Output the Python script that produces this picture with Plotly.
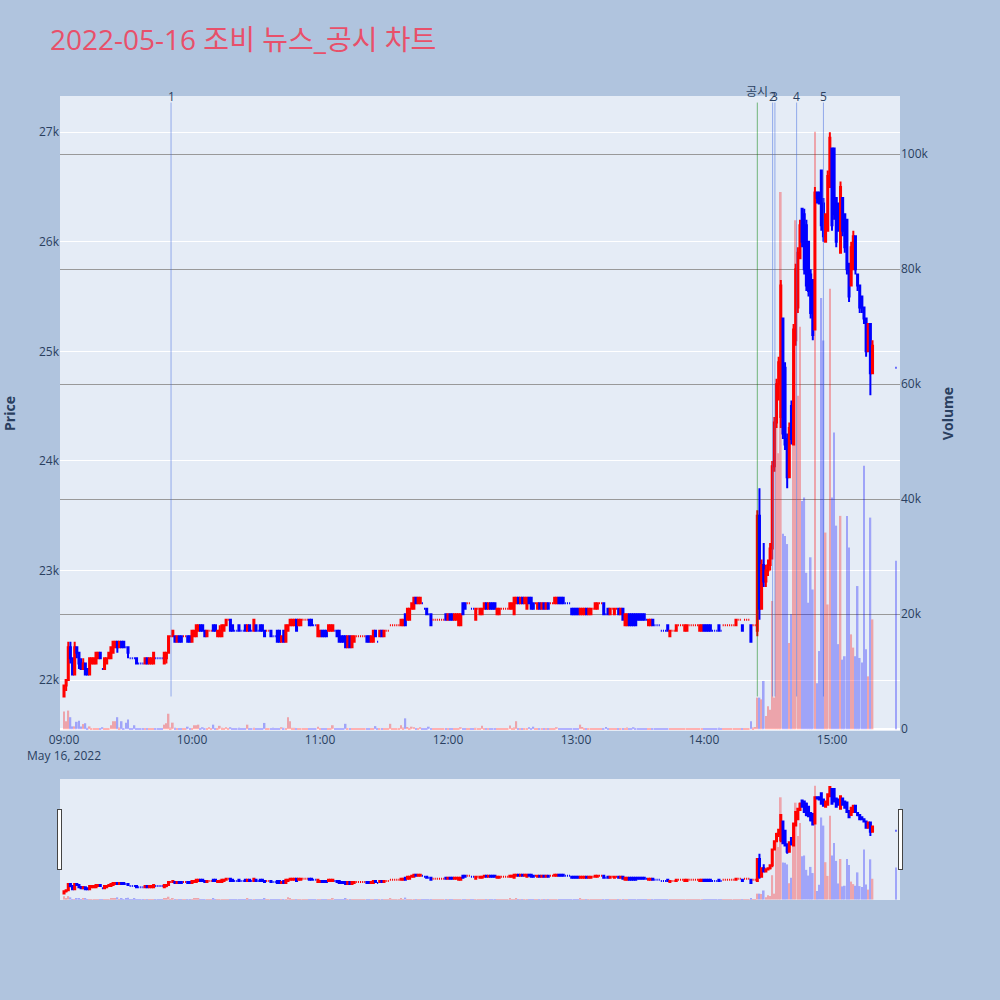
import plotly.graph_objects as go
from plotly.subplots import make_subplots

DAY = "2022-05-16"
# 1-minute bars 09:00 .. 15:19 plus the 15:30 closing auction
times = [f"{DAY} {9 + i // 60:02d}:{i % 60:02d}" for i in range(380)] + [f"{DAY} 15:30"]

opens = [
    21850, 21950, 22000, 22300, 22200, 22050, 22300, 22250, 22150, 22100,
    22150, 22100, 22050, 22150, 22150, 22150, 22200, 22250, 22100, 22100,
    22150, 22200, 22200, 22250, 22300, 22350, 22300, 22350, 22350, 22300,
    22300, 22200, 22200, 22200, 22200, 22150, 22150, 22150, 22150, 22200,
    22150, 22150, 22150, 22200, 22200, 22200, 22200, 22150, 22200, 22250,
    22400, 22400, 22400, 22350, 22400, 22400, 22400, 22400, 22400, 22400,
    22350, 22400, 22400, 22450, 22500, 22500, 22450, 22400, 22450, 22450,
    22500, 22500, 22400, 22400, 22400, 22450, 22500, 22550, 22550, 22500,
    22450, 22450, 22500, 22450, 22450, 22500, 22450, 22500, 22450, 22450,
    22500, 22450, 22500, 22500, 22450, 22450, 22450, 22450, 22400, 22400,
    22450, 22450, 22350, 22450, 22350, 22450, 22500, 22500, 22500, 22550,
    22500, 22500, 22550, 22550, 22550, 22550, 22550, 22500, 22500, 22400,
    22400, 22450, 22450, 22450, 22450, 22450, 22450, 22450, 22450, 22450,
    22400, 22400, 22400, 22300, 22400, 22300, 22350, 22400, 22400, 22400,
    22400, 22400, 22400, 22400, 22350, 22350, 22450, 22350, 22400, 22450,
    22400, 22450, 22450, 22500, 22500, 22500, 22500, 22500, 22500, 22500,
    22600, 22550, 22550, 22650, 22650, 22750, 22700, 22700, 22700, 22650,
    22650, 22600, 22600, 22550, 22550, 22550, 22550, 22550, 22550, 22600,
    22550, 22600, 22600, 22550, 22550, 22500, 22500, 22700, 22700, 22700,
    22700, 22650, 22650, 22550, 22650, 22600, 22600, 22650, 22700, 22650,
    22700, 22700, 22700, 22600, 22600, 22650, 22650, 22650, 22650, 22650,
    22650, 22600, 22700, 22750, 22700, 22750, 22700, 22650, 22750, 22750,
    22700, 22700, 22650, 22700, 22650, 22700, 22650, 22700, 22700, 22700,
    22700, 22700, 22750, 22750, 22750, 22700, 22700, 22700, 22650, 22650,
    22650, 22650, 22600, 22600, 22600, 22650, 22600, 22600, 22650, 22650,
    22650, 22700, 22700, 22700, 22600, 22650, 22600, 22650, 22600, 22650,
    22650, 22600, 22650, 22500, 22500, 22600, 22600, 22600, 22600, 22600,
    22600, 22600, 22600, 22550, 22500, 22500, 22550, 22500, 22500, 22500,
    22450, 22450, 22450, 22500, 22400, 22450, 22450, 22450, 22500, 22500,
    22500, 22450, 22450, 22500, 22500, 22500, 22500, 22500, 22450, 22450,
    22500, 22500, 22500, 22500, 22450, 22450, 22450, 22500, 22450, 22500,
    22500, 22500, 22500, 22500, 22500, 22500, 22550, 22550, 22500, 22550,
    22550, 22550, 22500, 22500, 22500, 22450, 23500, 22650, 23050, 22900,
    23000, 23050, 23200, 23950, 24350, 24700, 24400, 25300, 24850, 24200,
    23850, 24500, 24150, 25100, 25400, 25850, 26300, 26250, 26150, 26000,
    25700, 25650, 25200, 26450, 26450, 26650, 26350, 26000, 26100, 26500,
    26850, 26850, 26400, 26350, 25900, 26400, 26250, 26200, 25800, 25600,
    25750, 26050, 25700, 25600, 25500, 25400, 25300, 25000, 25250, 24800,
    24850,
]

highs = [
    21950, 22000, 22350, 22350, 22200, 22350, 22300, 22250, 22200, 22200,
    22150, 22100, 22200, 22200, 22200, 22250, 22250, 22250, 22100, 22200,
    22200, 22250, 22300, 22350, 22350, 22350, 22350, 22350, 22350, 22300,
    22300, 22200, 22200, 22200, 22200, 22150, 22150, 22150, 22200, 22200,
    22200, 22200, 22250, 22200, 22200, 22200, 22200, 22250, 22250, 22400,
    22400, 22450, 22400, 22400, 22400, 22400, 22400, 22400, 22400, 22400,
    22450, 22450, 22500, 22500, 22500, 22500, 22450, 22450, 22450, 22450,
    22500, 22500, 22450, 22500, 22500, 22500, 22550, 22550, 22550, 22500,
    22450, 22450, 22500, 22450, 22450, 22500, 22500, 22500, 22450, 22550,
    22500, 22450, 22500, 22500, 22450, 22450, 22450, 22450, 22400, 22400,
    22450, 22450, 22400, 22450, 22500, 22500, 22550, 22550, 22550, 22550,
    22550, 22550, 22550, 22550, 22550, 22550, 22550, 22500, 22500, 22500,
    22450, 22450, 22450, 22450, 22500, 22500, 22500, 22450, 22450, 22450,
    22400, 22400, 22400, 22400, 22400, 22400, 22400, 22400, 22400, 22400,
    22400, 22400, 22400, 22400, 22400, 22450, 22450, 22350, 22450, 22450,
    22450, 22450, 22450, 22500, 22500, 22500, 22500, 22500, 22550, 22550,
    22600, 22650, 22650, 22700, 22750, 22750, 22750, 22750, 22700, 22650,
    22650, 22600, 22600, 22550, 22550, 22550, 22550, 22550, 22550, 22600,
    22600, 22600, 22600, 22600, 22600, 22600, 22600, 22700, 22700, 22700,
    22700, 22650, 22650, 22650, 22650, 22650, 22650, 22700, 22700, 22700,
    22700, 22700, 22700, 22650, 22650, 22650, 22650, 22650, 22650, 22700,
    22700, 22750, 22750, 22750, 22750, 22750, 22750, 22750, 22750, 22750,
    22700, 22700, 22700, 22700, 22700, 22700, 22700, 22700, 22700, 22700,
    22750, 22750, 22750, 22750, 22750, 22700, 22700, 22700, 22650, 22650,
    22650, 22650, 22650, 22650, 22650, 22650, 22650, 22650, 22650, 22700,
    22700, 22700, 22700, 22700, 22600, 22650, 22650, 22650, 22650, 22650,
    22650, 22650, 22650, 22600, 22600, 22600, 22600, 22600, 22600, 22600,
    22600, 22600, 22600, 22550, 22550, 22550, 22550, 22500, 22500, 22500,
    22450, 22450, 22450, 22500, 22450, 22450, 22450, 22500, 22500, 22500,
    22500, 22500, 22500, 22500, 22500, 22500, 22500, 22500, 22500, 22500,
    22500, 22500, 22500, 22500, 22450, 22450, 22450, 22500, 22450, 22500,
    22500, 22500, 22500, 22500, 22500, 22550, 22550, 22550, 22500, 22550,
    22550, 22550, 22500, 22500, 22500, 23550, 23750, 23100, 23250, 23050,
    23100, 23250, 24000, 24400, 24750, 24950, 25650, 25300, 24900, 24250,
    24350, 24550, 25250, 25800, 25950, 26200, 26300, 26300, 26200, 26000,
    25750, 25650, 26500, 26450, 26450, 26650, 26400, 26250, 26650, 27000,
    26850, 26850, 26400, 26350, 26550, 26400, 26250, 26200, 25800, 26000,
    26100, 26050, 25700, 25600, 25500, 25400, 25300, 25250, 25250, 25100,
    24850,
]

lows = [
    21850, 21900, 22000, 22150, 22050, 22050, 22200, 22100, 22100, 22100,
    22050, 22050, 22050, 22150, 22150, 22150, 22200, 22200, 22100, 22100,
    22150, 22200, 22200, 22250, 22300, 22250, 22300, 22300, 22300, 22300,
    22200, 22200, 22200, 22200, 22150, 22150, 22150, 22150, 22150, 22150,
    22150, 22150, 22150, 22200, 22200, 22200, 22200, 22150, 22150, 22250,
    22400, 22400, 22350, 22350, 22350, 22350, 22400, 22400, 22350, 22350,
    22350, 22400, 22400, 22450, 22450, 22450, 22400, 22400, 22450, 22450,
    22450, 22450, 22400, 22400, 22400, 22450, 22500, 22550, 22450, 22450,
    22450, 22450, 22450, 22450, 22450, 22450, 22450, 22450, 22450, 22450,
    22450, 22450, 22450, 22450, 22400, 22450, 22450, 22400, 22400, 22400,
    22350, 22350, 22350, 22350, 22350, 22450, 22500, 22500, 22500, 22450,
    22500, 22500, 22550, 22550, 22550, 22500, 22500, 22500, 22500, 22400,
    22400, 22400, 22400, 22400, 22450, 22450, 22450, 22450, 22400, 22350,
    22350, 22350, 22300, 22300, 22300, 22300, 22350, 22400, 22400, 22400,
    22400, 22400, 22350, 22350, 22350, 22350, 22400, 22350, 22400, 22400,
    22400, 22450, 22450, 22500, 22500, 22500, 22500, 22500, 22500, 22500,
    22500, 22550, 22550, 22650, 22650, 22700, 22700, 22700, 22700, 22650,
    22600, 22600, 22500, 22550, 22550, 22550, 22550, 22550, 22550, 22550,
    22550, 22550, 22550, 22550, 22550, 22500, 22500, 22600, 22650, 22700,
    22700, 22650, 22650, 22550, 22650, 22600, 22600, 22650, 22650, 22650,
    22650, 22650, 22650, 22600, 22600, 22650, 22650, 22650, 22650, 22650,
    22650, 22600, 22700, 22700, 22700, 22700, 22700, 22650, 22700, 22650,
    22650, 22700, 22650, 22650, 22650, 22650, 22650, 22650, 22700, 22700,
    22700, 22700, 22700, 22700, 22700, 22700, 22700, 22700, 22600, 22600,
    22600, 22600, 22600, 22600, 22600, 22600, 22600, 22600, 22650, 22650,
    22650, 22700, 22700, 22600, 22600, 22600, 22600, 22650, 22600, 22650,
    22600, 22600, 22550, 22500, 22500, 22500, 22500, 22500, 22500, 22550,
    22550, 22550, 22550, 22550, 22500, 22500, 22500, 22500, 22500, 22500,
    22450, 22450, 22450, 22450, 22400, 22450, 22450, 22450, 22500, 22500,
    22500, 22450, 22450, 22500, 22500, 22500, 22500, 22500, 22450, 22450,
    22450, 22450, 22450, 22450, 22450, 22450, 22450, 22450, 22450, 22500,
    22500, 22500, 22500, 22500, 22500, 22500, 22550, 22550, 22450, 22550,
    22550, 22550, 22350, 22500, 22500, 22400, 22550, 22650, 22850, 22850,
    22950, 23000, 23100, 23900, 24300, 24550, 24300, 24200, 24100, 23750,
    23850, 24150, 24150, 25050, 25350, 25850, 25950, 25700, 25550, 25500,
    25300, 25100, 25200, 26350, 26350, 26100, 26000, 26000, 26100, 26500,
    26100, 26200, 25950, 26100, 25900, 26050, 25900, 25700, 25450, 25600,
    25750, 25700, 25550, 25350, 25350, 25250, 24950, 25000, 24600, 24800,
    24850,
]

closes = [
    21950, 22000, 22300, 22200, 22050, 22300, 22250, 22150, 22100, 22150,
    22050, 22050, 22200, 22200, 22200, 22250, 22250, 22200, 22100, 22200,
    22200, 22250, 22300, 22350, 22350, 22300, 22350, 22300, 22300, 22300,
    22250, 22200, 22200, 22200, 22150, 22150, 22150, 22150, 22200, 22150,
    22200, 22200, 22250, 22200, 22200, 22200, 22200, 22250, 22250, 22400,
    22400, 22450, 22350, 22400, 22350, 22350, 22400, 22400, 22350, 22350,
    22450, 22450, 22500, 22500, 22450, 22450, 22400, 22450, 22450, 22450,
    22450, 22450, 22450, 22450, 22500, 22500, 22550, 22550, 22450, 22450,
    22450, 22450, 22450, 22450, 22450, 22450, 22500, 22450, 22450, 22550,
    22450, 22450, 22450, 22450, 22400, 22450, 22450, 22400, 22400, 22400,
    22350, 22350, 22400, 22350, 22500, 22500, 22550, 22550, 22550, 22450,
    22550, 22550, 22550, 22550, 22550, 22500, 22500, 22500, 22500, 22500,
    22450, 22400, 22400, 22400, 22500, 22500, 22500, 22450, 22400, 22350,
    22350, 22350, 22300, 22400, 22300, 22400, 22400, 22400, 22400, 22400,
    22400, 22400, 22350, 22350, 22400, 22450, 22400, 22350, 22450, 22400,
    22450, 22450, 22450, 22500, 22500, 22500, 22500, 22500, 22550, 22550,
    22500, 22650, 22650, 22700, 22750, 22700, 22750, 22750, 22700, 22650,
    22600, 22600, 22500, 22550, 22550, 22550, 22550, 22550, 22550, 22550,
    22600, 22550, 22550, 22600, 22600, 22600, 22600, 22600, 22650, 22700,
    22700, 22650, 22650, 22650, 22650, 22650, 22650, 22700, 22650, 22700,
    22650, 22650, 22650, 22650, 22650, 22650, 22650, 22650, 22650, 22700,
    22700, 22750, 22750, 22700, 22750, 22700, 22750, 22750, 22700, 22650,
    22650, 22700, 22700, 22650, 22700, 22650, 22700, 22650, 22700, 22700,
    22750, 22750, 22700, 22700, 22700, 22700, 22700, 22700, 22600, 22600,
    22600, 22600, 22650, 22650, 22650, 22600, 22650, 22650, 22650, 22700,
    22700, 22700, 22700, 22600, 22600, 22600, 22650, 22650, 22650, 22650,
    22600, 22650, 22550, 22600, 22600, 22500, 22500, 22500, 22500, 22550,
    22550, 22550, 22550, 22550, 22550, 22550, 22500, 22500, 22500, 22500,
    22450, 22450, 22450, 22450, 22450, 22450, 22450, 22500, 22500, 22500,
    22500, 22500, 22500, 22500, 22500, 22500, 22500, 22500, 22500, 22500,
    22450, 22450, 22450, 22450, 22450, 22450, 22450, 22450, 22450, 22500,
    22500, 22500, 22500, 22500, 22500, 22550, 22550, 22550, 22450, 22550,
    22550, 22550, 22350, 22500, 22500, 23500, 22650, 23050, 22900, 23000,
    23050, 23200, 23950, 24350, 24700, 24900, 25600, 24250, 24150, 23850,
    24300, 24200, 25200, 25750, 25900, 26150, 26000, 25750, 25600, 25550,
    25350, 25150, 26450, 26400, 26350, 26150, 26050, 26250, 26600, 26950,
    26150, 26250, 26000, 26100, 26500, 26100, 25950, 25750, 25500, 25950,
    26050, 25750, 25600, 25400, 25400, 25300, 25000, 25250, 24800, 25050,
    24850,
]

volumes = [
    3100, 1400, 3250, 2100, 500, 500, 1300, 1500, 500, 900,
    1050, 250, 500, 150, 100, 100, 100, 50, 350, 100,
    150, 100, 700, 1400, 1400, 2100, 300, 1400, 200, 1150,
    1700, 100, 100, 700, 100, 50, 50, 100, 150, 100,
    150, 100, 200, 50, 50, 100, 50, 800, 1050, 2700,
    300, 1150, 250, 100, 50, 100, 50, 50, 450, 100,
    200, 700, 700, 800, 150, 350, 100, 150, 350, 100,
    800, 150, 100, 600, 250, 100, 350, 50, 350, 100,
    50, 100, 250, 50, 50, 100, 800, 100, 50, 250,
    100, 50, 100, 150, 1100, 50, 100, 150, 250, 50,
    100, 150, 350, 250, 150, 2100, 1400, 250, 250, 100,
    150, 100, 50, 50, 50, 100, 150, 50, 50, 450,
    100, 150, 100, 50, 100, 150, 700, 50, 100, 150,
    100, 200, 950, 150, 150, 100, 100, 50, 50, 50,
    50, 50, 100, 150, 100, 200, 550, 50, 100, 150,
    150, 50, 50, 950, 50, 50, 50, 50, 700, 300,
    1900, 400, 150, 450, 350, 200, 150, 350, 50, 100,
    150, 450, 200, 50, 50, 50, 50, 50, 50, 100,
    150, 100, 150, 100, 150, 200, 350, 200, 100, 50,
    50, 50, 100, 250, 50, 150, 600, 200, 150, 200,
    200, 150, 200, 150, 100, 50, 50, 50, 50, 650,
    200, 300, 1400, 200, 150, 200, 100, 150, 350, 200,
    450, 50, 150, 100, 150, 100, 150, 100, 50, 50,
    200, 350, 150, 100, 100, 50, 50, 50, 200, 100,
    150, 100, 800, 400, 150, 100, 150, 100, 50, 200,
    150, 50, 50, 200, 400, 150, 100, 50, 150, 50,
    150, 100, 200, 150, 300, 100, 150, 350, 100, 150,
    100, 100, 150, 50, 100, 150, 100, 50, 50, 50,
    200, 50, 50, 150, 200, 50, 50, 100, 50, 50,
    50, 100, 150, 50, 50, 50, 50, 50, 100, 150,
    100, 150, 100, 150, 50, 50, 50, 250, 50, 50,
    50, 50, 50, 50, 50, 200, 50, 50, 150, 50,
    50, 50, 1400, 300, 400, 5500, 5500, 5200, 8400, 2300,
    4000, 3400, 22300, 5500, 57000, 48000, 93400, 34000, 33600, 32200,
    15000, 20000, 62000, 88500, 58000, 70000, 39700, 40300, 27200, 22000,
    29900, 24300, 103900, 8000, 13600, 75000, 67600, 34200, 21700, 76600,
    40300, 51600, 35400, 14800, 37100, 12100, 12700, 37100, 31600, 16500,
    14200, 12700, 24900, 12400, 11600, 45800, 13900, 9200, 36800, 19100,
    29300,
]

news_times = [f"{DAY} 09:50:10", f"{DAY} 14:32:10", f"{DAY} 14:33:15",
              f"{DAY} 14:43:25", f"{DAY} 14:56:00"]
news_labels = ["1", "2", "3", "4", "5"]
disclosure_times = [f"{DAY} 14:25:00"]
disclosure_labels = ["공시"]

UP, DOWN = "red", "blue"

# volume bar colour follows the candle direction
vol_colors = []
prev_up = True
for i in range(len(closes)):
    if closes[i] > opens[i]:
        up = True
    elif closes[i] < opens[i]:
        up = False
    elif i > 0 and closes[i] != closes[i - 1]:
        up = closes[i] > closes[i - 1]
    else:
        up = prev_up
    prev_up = up
    vol_colors.append(UP if up else DOWN)

fig = make_subplots(specs=[[{"secondary_y": True}]])

fig.add_trace(go.Candlestick(
    x=times, open=opens, high=highs, low=lows, close=closes,
    increasing=dict(line=dict(color=UP), fillcolor=UP),
    decreasing=dict(line=dict(color=DOWN), fillcolor=DOWN),
    name="Price", showlegend=False,
), secondary_y=False)

fig.add_trace(go.Bar(
    x=times, y=volumes, marker=dict(color=vol_colors, line=dict(width=0)),
    opacity=0.3, name="Volume", showlegend=False,
), secondary_y=True)

line_bottom = min(lows)
line_top = max(highs) * 1.01

for t, lab in zip(news_times, news_labels):
    fig.add_shape(type="line", xref="x", yref="y", x0=t, x1=t,
                  y0=line_bottom, y1=line_top,
                  line=dict(color="royalblue", width=1), opacity=0.5)
    fig.add_annotation(x=t, y=line_top, xref="x", yref="y", text=lab,
                       showarrow=False, yanchor="bottom", yshift=-4,
                       font=dict(size=12, color="#2a3f5f"))

for t, lab in zip(disclosure_times, disclosure_labels):
    fig.add_shape(type="line", xref="x", yref="y", x0=t, x1=t,
                  y0=line_bottom, y1=line_top,
                  line=dict(color="green", width=1), opacity=0.5)
    fig.add_annotation(x=t, y=line_top, xref="x", yref="y", text=lab,
                       showarrow=False, yanchor="bottom", yshift=1,
                       font=dict(size=12, color="#2a3f5f"))

x_range = [f"{DAY} 08:58:07", f"{DAY} 15:31:53"]

fig.update_layout(
    width=1000, height=1000,
    autosize=False,
    paper_bgcolor="lightsteelblue",
    plot_bgcolor="#E5ECF6",
    margin=dict(l=60, r=100, t=96, b=269, autoexpand=False),
    title=dict(text="2022-05-16 조비 뉴스_공시 차트", x=0.05, xanchor="left",
               y=0.96, yanchor="middle",
               font=dict(size=28, color="#e8506a",
                         family="Open Sans, Noto Sans CJK KR")),
    font=dict(family="Open Sans, Noto Sans CJK KR", color="#2a3f5f"),
    showlegend=False,
    bargap=0.2,
)

fig.update_xaxes(
    type="date", range=x_range, showgrid=False, domain=[0, 1],
    dtick=3600000, tick0=f"{DAY} 09:00",
    rangeslider=dict(visible=True, thickness=0.19, range=x_range),
)
fig.update_yaxes(
    title=dict(text="<b>Price</b>", font=dict(size=14), standoff=20),
    range=[21535, 27330], gridcolor="white", zeroline=False,
    automargin=False, secondary_y=False,
)
fig.update_yaxes(
    title=dict(text="<b>Volume</b>", font=dict(size=14)),
    range=[-300, 110100], gridcolor="#999999", showgrid=True,
    automargin=False, secondary_y=True,
)

fig.write_html(
    "out.html",
    config={"responsive": False, "displayModeBar": False},
    post_script="document.body.style.margin='0px';",
)
